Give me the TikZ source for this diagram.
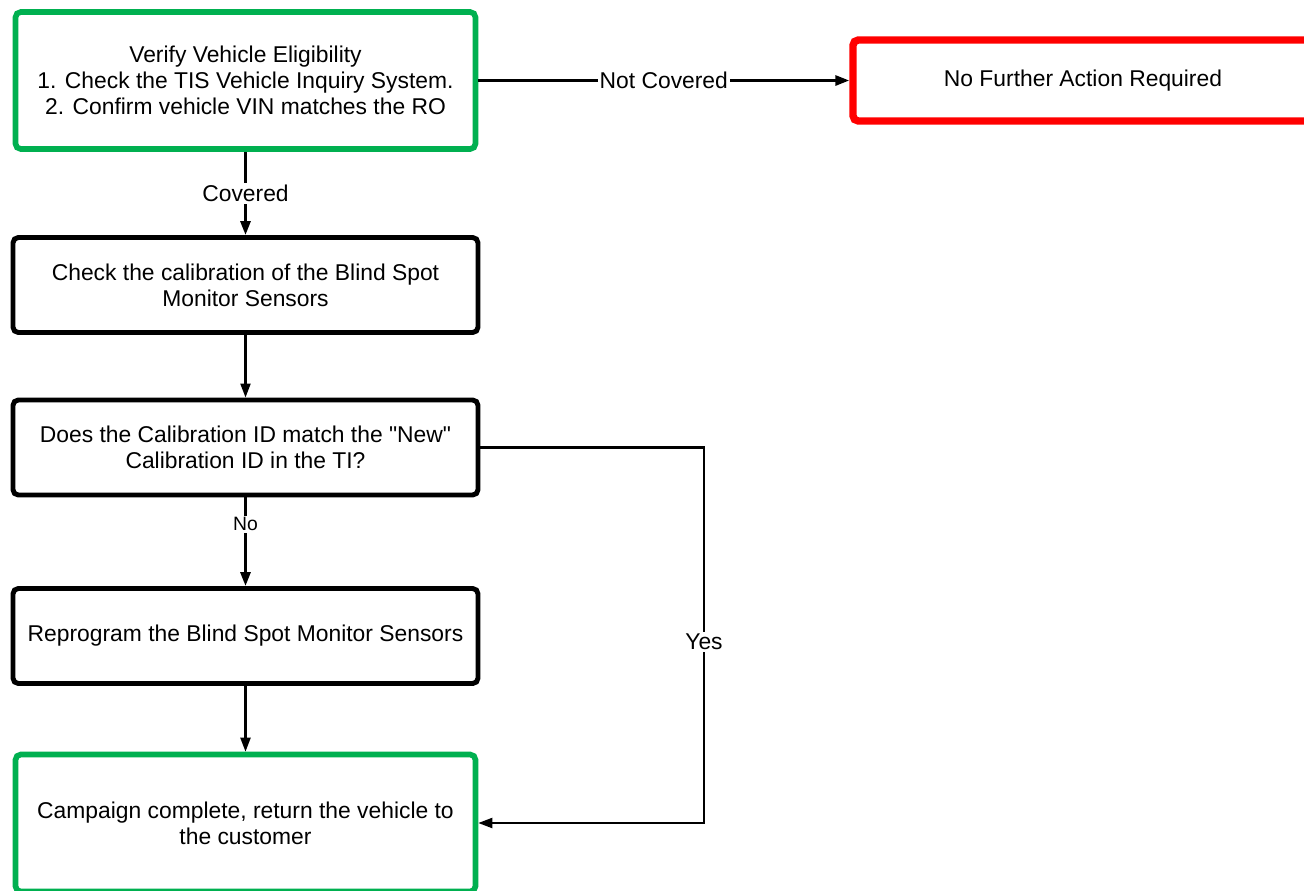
\documentclass[tikz,border=0pt]{standalone}
\definecolor{boxgreen}{RGB}{0,176,80}
\definecolor{boxred}{RGB}{255,0,0}
\usepackage{fontspec}
\setmainfont{Liberation Sans}
\usepackage{tikz}
\usetikzlibrary{arrows.meta,positioning,calc}

\begin{document}
\begin{tikzpicture}[
    stepbox/.style={draw=black, line width=2.8pt, rounded corners=3pt, fill=white,
        minimum width=9.3cm, minimum height=1.9cm, align=center, font=\fontsize{13}{14.8}\selectfont},
    greenbox/.style={stepbox, draw=boxgreen, line width=3.2pt, minimum width=9.2cm, minimum height=2.74cm},
    redbox/.style={stepbox, draw=boxred, line width=4.2pt, minimum width=9.2cm, minimum height=1.62cm},
    thickarrow/.style={-{Triangle[length=0.28cm,width=0.2cm]}, line width=1.7pt},
    thinarrow/.style={-{Triangle[length=0.28cm,width=0.2cm]}, line width=1.2pt},
    lbl/.style={fill=white, inner sep=1pt, font=\fontsize{13}{15}\selectfont}
]
    \useasboundingbox (0,0) rectangle (26.08,-17.8);

    % Boxes
    \node[greenbox] (verify) at (4.91,-1.61) {Verify Vehicle Eligibility\\1. Check the TIS Vehicle Inquiry System.\\2. Confirm vehicle VIN matches the RO};
    \node[redbox] (nfa) at (21.66,-1.61) {No Further Action Required};
    \node[stepbox] (calib) at (4.91,-5.7) {Check the calibration of the Blind Spot\\Monitor Sensors};
    \node[stepbox] (match) at (4.91,-8.95) {Does the Calibration ID match the \textquotedbl New\textquotedbl\\Calibration ID in the TI?};
    \node[stepbox] (reprog) at (4.91,-12.72) {Reprogram the Blind Spot Monitor Sensors};
    \node[greenbox] (done) at (4.91,-16.46) {Campaign complete, return the vehicle to\\the customer};

    % Connectors
    \coordinate (yesbend) at (14.08,-12.84);
    \draw[thickarrow] (verify) -- node[lbl] {Not Covered} (nfa);
    \draw[thickarrow] (verify) -- node[lbl] {Covered} (calib);
    \draw[thinarrow] (calib) -- (match);
    \draw[thickarrow] (match) -- node[lbl, pos=0.3, font=\fontsize{11}{13}\selectfont] {No} (reprog);
    \draw[thinarrow] (reprog) -- (done);
    \draw[thinarrow] (match.east) -| (yesbend) node[lbl] {Yes} |- (done.east);
\end{tikzpicture}
\end{document}
